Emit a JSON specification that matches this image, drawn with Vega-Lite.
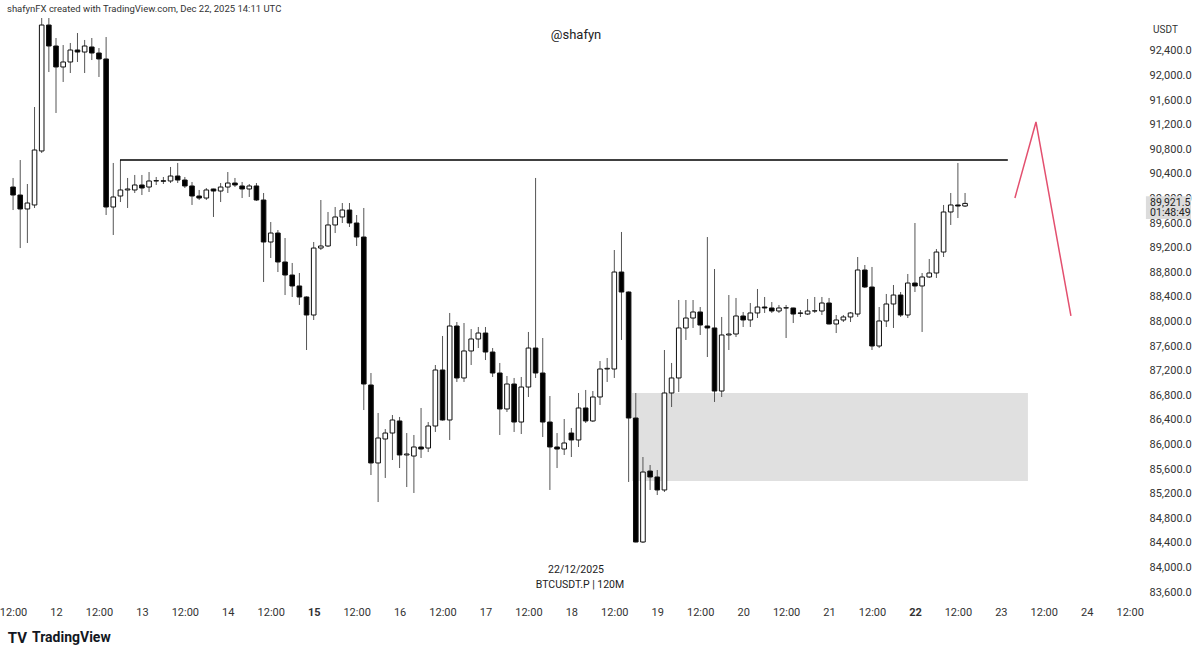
{
  "$schema": "https://vega.github.io/schema/vega-lite/v6.json",
  "autosize": "none",
  "width": 1140,
  "height": 600,
  "padding": {"left": 0, "top": 0, "right": 60, "bottom": 58},
  "background": "#ffffff",
  "config": {"view": {"stroke": null}, "font": "Roboto"},
  "datasets": {
    "candles": [
      {"t":"2025-12-11T12:00:00Z","o":90188,"h":90335,"l":89814,"c":90058},
      {"t":"2025-12-11T14:00:00Z","o":90058,"h":90627,"l":89196,"c":89831},
      {"t":"2025-12-11T16:00:00Z","o":89831,"h":90237,"l":89278,"c":89928},
      {"t":"2025-12-11T18:00:00Z","o":89896,"h":91489,"l":89847,"c":90790},
      {"t":"2025-12-11T20:00:00Z","o":90774,"h":92936,"l":90741,"c":92822},
      {"t":"2025-12-11T22:00:00Z","o":92822,"h":92936,"l":92058,"c":92481},
      {"t":"2025-12-12T00:00:00Z","o":92481,"h":92611,"l":91392,"c":92140},
      {"t":"2025-12-12T02:00:00Z","o":92140,"h":92497,"l":91896,"c":92221},
      {"t":"2025-12-12T04:00:00Z","o":92221,"h":92530,"l":92042,"c":92416},
      {"t":"2025-12-12T06:00:00Z","o":92416,"h":92692,"l":92221,"c":92383},
      {"t":"2025-12-12T08:00:00Z","o":92383,"h":92579,"l":92042,"c":92481},
      {"t":"2025-12-12T10:00:00Z","o":92465,"h":92611,"l":92253,"c":92367},
      {"t":"2025-12-12T12:00:00Z","o":92367,"h":92448,"l":91977,"c":92270},
      {"t":"2025-12-12T14:00:00Z","o":92270,"h":92627,"l":89733,"c":89863},
      {"t":"2025-12-12T16:00:00Z","o":89863,"h":90579,"l":89408,"c":90026},
      {"t":"2025-12-12T18:00:00Z","o":90042,"h":90627,"l":89944,"c":90140},
      {"t":"2025-12-12T20:00:00Z","o":90140,"h":90335,"l":89847,"c":90156},
      {"t":"2025-12-12T22:00:00Z","o":90140,"h":90384,"l":90091,"c":90221},
      {"t":"2025-12-13T00:00:00Z","o":90221,"h":90384,"l":90058,"c":90172},
      {"t":"2025-12-13T02:00:00Z","o":90188,"h":90432,"l":90107,"c":90286},
      {"t":"2025-12-13T04:00:00Z","o":90286,"h":90351,"l":90221,"c":90292},
      {"t":"2025-12-13T06:00:00Z","o":90290,"h":90351,"l":90237,"c":90282},
      {"t":"2025-12-13T08:00:00Z","o":90286,"h":90514,"l":90253,"c":90367},
      {"t":"2025-12-13T10:00:00Z","o":90367,"h":90579,"l":90253,"c":90302},
      {"t":"2025-12-13T12:00:00Z","o":90302,"h":90351,"l":90172,"c":90205},
      {"t":"2025-12-13T14:00:00Z","o":90205,"h":90270,"l":89896,"c":90042},
      {"t":"2025-12-13T16:00:00Z","o":90042,"h":90140,"l":89977,"c":90009},
      {"t":"2025-12-13T18:00:00Z","o":90009,"h":90172,"l":89977,"c":90140},
      {"t":"2025-12-13T20:00:00Z","o":90156,"h":90160,"l":89701,"c":90123},
      {"t":"2025-12-13T22:00:00Z","o":90123,"h":90253,"l":89944,"c":90188},
      {"t":"2025-12-14T00:00:00Z","o":90188,"h":90432,"l":90091,"c":90253},
      {"t":"2025-12-14T02:00:00Z","o":90253,"h":90335,"l":90188,"c":90221},
      {"t":"2025-12-14T04:00:00Z","o":90205,"h":90270,"l":90009,"c":90156},
      {"t":"2025-12-14T06:00:00Z","o":90156,"h":90237,"l":90026,"c":90205},
      {"t":"2025-12-14T08:00:00Z","o":90205,"h":90253,"l":89961,"c":89977},
      {"t":"2025-12-14T10:00:00Z","o":89977,"h":90091,"l":88644,"c":89294},
      {"t":"2025-12-14T12:00:00Z","o":89294,"h":89619,"l":89034,"c":89440},
      {"t":"2025-12-14T14:00:00Z","o":89440,"h":89489,"l":88806,"c":88969},
      {"t":"2025-12-14T16:00:00Z","o":88969,"h":89359,"l":88432,"c":88757},
      {"t":"2025-12-14T18:00:00Z","o":88757,"h":88953,"l":88400,"c":88579},
      {"t":"2025-12-14T20:00:00Z","o":88579,"h":88790,"l":88270,"c":88400},
      {"t":"2025-12-14T22:00:00Z","o":88400,"h":88410,"l":87538,"c":88107},
      {"t":"2025-12-15T00:00:00Z","o":88107,"h":89294,"l":88026,"c":89196},
      {"t":"2025-12-15T02:00:00Z","o":89196,"h":89977,"l":89164,"c":89229},
      {"t":"2025-12-15T04:00:00Z","o":89229,"h":89782,"l":89213,"c":89571},
      {"t":"2025-12-15T06:00:00Z","o":89571,"h":89863,"l":89440,"c":89701},
      {"t":"2025-12-15T08:00:00Z","o":89701,"h":89928,"l":89603,"c":89814},
      {"t":"2025-12-15T10:00:00Z","o":89814,"h":89928,"l":89538,"c":89603},
      {"t":"2025-12-15T12:00:00Z","o":89603,"h":89733,"l":89229,"c":89375},
      {"t":"2025-12-15T14:00:00Z","o":89375,"h":89847,"l":86562,"c":86985},
      {"t":"2025-12-15T16:00:00Z","o":86969,"h":87164,"l":85505,"c":85701},
      {"t":"2025-12-15T18:00:00Z","o":85701,"h":86514,"l":85066,"c":86107},
      {"t":"2025-12-15T20:00:00Z","o":86091,"h":86253,"l":85457,"c":86188},
      {"t":"2025-12-15T22:00:00Z","o":86188,"h":86481,"l":85749,"c":86400},
      {"t":"2025-12-16T00:00:00Z","o":86384,"h":86449,"l":85619,"c":85831},
      {"t":"2025-12-16T02:00:00Z","o":85831,"h":86188,"l":85310,"c":85847},
      {"t":"2025-12-16T04:00:00Z","o":85814,"h":86156,"l":85213,"c":85961},
      {"t":"2025-12-16T06:00:00Z","o":85961,"h":86595,"l":85782,"c":85928},
      {"t":"2025-12-16T08:00:00Z","o":85944,"h":86367,"l":85879,"c":86302},
      {"t":"2025-12-16T10:00:00Z","o":86302,"h":87294,"l":86205,"c":87213},
      {"t":"2025-12-16T12:00:00Z","o":87213,"h":87766,"l":86390,"c":86400},
      {"t":"2025-12-16T14:00:00Z","o":86400,"h":88140,"l":86075,"c":87928},
      {"t":"2025-12-16T16:00:00Z","o":87928,"h":87993,"l":87018,"c":87083},
      {"t":"2025-12-16T18:00:00Z","o":87083,"h":87977,"l":87018,"c":87522},
      {"t":"2025-12-16T20:00:00Z","o":87522,"h":87879,"l":87294,"c":87717},
      {"t":"2025-12-16T22:00:00Z","o":87717,"h":87912,"l":87570,"c":87814},
      {"t":"2025-12-17T00:00:00Z","o":87814,"h":87912,"l":87375,"c":87505},
      {"t":"2025-12-17T02:00:00Z","o":87505,"h":87570,"l":87099,"c":87164},
      {"t":"2025-12-17T04:00:00Z","o":87164,"h":87327,"l":86156,"c":86579},
      {"t":"2025-12-17T06:00:00Z","o":86579,"h":87115,"l":86530,"c":86985},
      {"t":"2025-12-17T08:00:00Z","o":86985,"h":87083,"l":86205,"c":86367},
      {"t":"2025-12-17T10:00:00Z","o":86367,"h":87099,"l":86172,"c":86936},
      {"t":"2025-12-17T12:00:00Z","o":86936,"h":87831,"l":86774,"c":87570},
      {"t":"2025-12-17T14:00:00Z","o":87570,"h":90335,"l":87083,"c":87164},
      {"t":"2025-12-17T16:00:00Z","o":87164,"h":87733,"l":86123,"c":86367},
      {"t":"2025-12-17T18:00:00Z","o":86367,"h":86790,"l":85262,"c":85961},
      {"t":"2025-12-17T20:00:00Z","o":85961,"h":86188,"l":85619,"c":85928},
      {"t":"2025-12-17T22:00:00Z","o":85928,"h":86416,"l":85831,"c":86026},
      {"t":"2025-12-18T00:00:00Z","o":86188,"h":86270,"l":85798,"c":86075},
      {"t":"2025-12-18T02:00:00Z","o":86075,"h":86839,"l":85961,"c":86595},
      {"t":"2025-12-18T04:00:00Z","o":86595,"h":86888,"l":86351,"c":86384},
      {"t":"2025-12-18T06:00:00Z","o":86384,"h":86871,"l":86367,"c":86774},
      {"t":"2025-12-18T08:00:00Z","o":86774,"h":87359,"l":86644,"c":87229},
      {"t":"2025-12-18T10:00:00Z","o":87229,"h":87408,"l":87018,"c":87240},
      {"t":"2025-12-18T12:00:00Z","o":87229,"h":89164,"l":87083,"c":88806},
      {"t":"2025-12-18T14:00:00Z","o":88806,"h":89457,"l":87701,"c":88481},
      {"t":"2025-12-18T16:00:00Z","o":88481,"h":88490,"l":85392,"c":86432},
      {"t":"2025-12-18T18:00:00Z","o":86432,"h":86839,"l":84410,"c":84416},
      {"t":"2025-12-18T20:00:00Z","o":84416,"h":85798,"l":84400,"c":85554},
      {"t":"2025-12-18T22:00:00Z","o":85570,"h":85668,"l":85262,"c":85473},
      {"t":"2025-12-19T00:00:00Z","o":85473,"h":85587,"l":85180,"c":85262},
      {"t":"2025-12-19T02:00:00Z","o":85262,"h":87538,"l":85229,"c":86839},
      {"t":"2025-12-19T04:00:00Z","o":86839,"h":87327,"l":86611,"c":87083},
      {"t":"2025-12-19T06:00:00Z","o":87083,"h":88351,"l":86855,"c":87896},
      {"t":"2025-12-19T08:00:00Z","o":87896,"h":88351,"l":87701,"c":88058},
      {"t":"2025-12-19T10:00:00Z","o":88058,"h":88351,"l":87896,"c":88156},
      {"t":"2025-12-19T12:00:00Z","o":88156,"h":88237,"l":87782,"c":87944},
      {"t":"2025-12-19T14:00:00Z","o":87928,"h":89375,"l":87424,"c":87896},
      {"t":"2025-12-19T16:00:00Z","o":87896,"h":88855,"l":86693,"c":86871},
      {"t":"2025-12-19T18:00:00Z","o":86871,"h":88075,"l":86774,"c":87782},
      {"t":"2025-12-19T20:00:00Z","o":87782,"h":88432,"l":87538,"c":87798},
      {"t":"2025-12-19T22:00:00Z","o":87798,"h":88384,"l":87749,"c":88091},
      {"t":"2025-12-20T00:00:00Z","o":88091,"h":88156,"l":87912,"c":88026},
      {"t":"2025-12-20T02:00:00Z","o":88026,"h":88302,"l":87912,"c":88140},
      {"t":"2025-12-20T04:00:00Z","o":88140,"h":88530,"l":88058,"c":88237},
      {"t":"2025-12-20T06:00:00Z","o":88237,"h":88400,"l":88140,"c":88221},
      {"t":"2025-12-20T08:00:00Z","o":88221,"h":88318,"l":88140,"c":88172},
      {"t":"2025-12-20T10:00:00Z","o":88172,"h":88270,"l":88140,"c":88221},
      {"t":"2025-12-20T12:00:00Z","o":88221,"h":88270,"l":87733,"c":88225},
      {"t":"2025-12-20T14:00:00Z","o":88221,"h":88225,"l":87977,"c":88123},
      {"t":"2025-12-20T16:00:00Z","o":88140,"h":88188,"l":88075,"c":88135},
      {"t":"2025-12-20T18:00:00Z","o":88123,"h":88367,"l":88107,"c":88172},
      {"t":"2025-12-20T20:00:00Z","o":88172,"h":88400,"l":88140,"c":88175},
      {"t":"2025-12-20T22:00:00Z","o":88172,"h":88400,"l":88107,"c":88302},
      {"t":"2025-12-21T00:00:00Z","o":88302,"h":88384,"l":87955,"c":87961},
      {"t":"2025-12-21T02:00:00Z","o":87961,"h":88107,"l":87814,"c":88026},
      {"t":"2025-12-21T04:00:00Z","o":88026,"h":88107,"l":87993,"c":88075},
      {"t":"2025-12-21T06:00:00Z","o":88075,"h":88156,"l":87993,"c":88140},
      {"t":"2025-12-21T08:00:00Z","o":88123,"h":89050,"l":88075,"c":88839},
      {"t":"2025-12-21T10:00:00Z","o":88839,"h":88920,"l":88546,"c":88562},
      {"t":"2025-12-21T12:00:00Z","o":88562,"h":88888,"l":87538,"c":87603},
      {"t":"2025-12-21T14:00:00Z","o":87603,"h":88237,"l":87570,"c":88010},
      {"t":"2025-12-21T16:00:00Z","o":88010,"h":88449,"l":87912,"c":88286},
      {"t":"2025-12-21T18:00:00Z","o":88286,"h":88595,"l":87896,"c":88432},
      {"t":"2025-12-21T20:00:00Z","o":88432,"h":88481,"l":88075,"c":88107},
      {"t":"2025-12-21T22:00:00Z","o":88107,"h":88774,"l":88058,"c":88627},
      {"t":"2025-12-22T00:00:00Z","o":88627,"h":89603,"l":88481,"c":88579},
      {"t":"2025-12-22T02:00:00Z","o":88579,"h":88790,"l":87831,"c":88725},
      {"t":"2025-12-22T04:00:00Z","o":88725,"h":89018,"l":88709,"c":88790},
      {"t":"2025-12-22T06:00:00Z","o":88790,"h":89180,"l":88709,"c":89131},
      {"t":"2025-12-22T08:00:00Z","o":89131,"h":89896,"l":89050,"c":89782},
      {"t":"2025-12-22T10:00:00Z","o":89782,"h":90091,"l":89571,"c":89896},
      {"t":"2025-12-22T12:00:00Z","o":89896,"h":90579,"l":89684,"c":89879},
      {"t":"2025-12-22T14:00:00Z","o":89879,"h":90091,"l":89863,"c":89921.5}
    ],
    "zone": [{"x1":"2025-12-18T16:55:00Z","x2":"2025-12-23T07:34:00Z","p1":86839,"p2":85408}],
    "hline": [{"x1":"2025-12-12T17:53:00Z","x2":"2025-12-23T01:57:00Z","p":90627}],
    "redpath": [
      {"t":"2025-12-23T03:56:00Z","p":90010,"k":0},
      {"t":"2025-12-23T09:49:00Z","p":91246,"k":1},
      {"t":"2025-12-23T19:35:00Z","p":88091,"k":2}
    ],
    "watermark": [{"t":"2025-12-11T10:18:00Z","p":93083,"label":"shafynFX created with TradingView.com, Dec 22, 2025 14:11 UTC"}],
    "handle": [{"t":"2025-12-18T01:18:00Z","p":92660,"label":"@shafyn"}],
    "bottomText": [
      {"t":"2025-12-18T01:18:00Z","p":83961,"label":"22/12/2025"},
      {"t":"2025-12-18T02:25:00Z","p":83717,"label":"BTCUSDT.P | 120M"}
    ],
    "logo": [{"t":"2025-12-11T17:17:00Z","p":82855,"label":"TradingView"}],
    "logoIcon": [{"t":"2025-12-11T13:14:00Z","p":82855,"label":"TV"}],
    "priceBox": [{"x1":"2025-12-24T16:32:00Z","x2":"2025-12-25T05:08:00Z","p1":90040,"p2":89668}],
    "priceText": [
      {"t":"2025-12-24T17:42:00Z","p":89928,"label":"89,921.5"},
      {"t":"2025-12-24T17:42:00Z","p":89766,"label":"01:48:49"}
    ]
  },
  "encoding": {
    "x": {
      "type": "temporal",
      "scale": {"type": "utc", "domain": [1765441260000, 1766587980000], "nice": false, "padding": 0},
      "axis": {
        "title": null,
        "values": [1765454400000,1765497600000,1765540800000,1765584000000,1765627200000,1765670400000,1765713600000,1765756800000,1765800000000,1765843200000,1765886400000,1765929600000,1765972800000,1766016000000,1766059200000,1766102400000,1766145600000,1766188800000,1766232000000,1766275200000,1766318400000,1766361600000,1766404800000,1766448000000,1766491200000,1766534400000,1766577600000],
        "labelExpr": "utchours(datum.value) == 0 ? utcFormat(datum.value, '%-d') : '12:00'",
        "labelFontWeight": {"condition": {"test": "utcday(datum.value) == 1 && utchours(datum.value) == 0", "value": "bold"}, "value": "normal"},
        "labelFontSize": 11,
        "labelColor": "#333333",
        "labelPadding": 6,
        "labelOverlap": false,
        "labelFlush": false,
        "ticks": false,
        "domain": false,
        "grid": false
      }
    },
    "y": {
      "type": "quantitative",
      "scale": {"domain": [83473, 93229], "zero": false, "nice": false, "padding": 0},
      "axis": {
        "orient": "right",
        "values": [83600,84000,84400,84800,85200,85600,86000,86400,86800,87200,87600,88000,88400,88800,89200,89600,90000,90400,90800,91200,91600,92000,92400],
        "format": ",.1f",
        "labelFontSize": 11,
        "labelColor": "#333333",
        "labelPadding": 9,
        "labelOverlap": false,
        "ticks": false,
        "domain": false,
        "grid": false,
        "title": "USDT",
        "titleAngle": 0,
        "titleAlign": "center",
        "titleBaseline": "middle",
        "titleX": 25,
        "titleY": 29,
        "titleFontSize": 10,
        "titleFontWeight": "normal",
        "titleColor": "#333333"
      }
    }
  },
  "layer": [
    {
      "data": {"name": "zone"},
      "mark": {"type": "rect", "fill": "#e0e0e0"},
      "encoding": {
        "x": {"field": "x1", "type": "temporal"},
        "x2": {"field": "x2"},
        "y": {"field": "p1", "type": "quantitative"},
        "y2": {"field": "p2"}
      }
    },
    {
      "data": {"name": "candles"},
      "mark": {"type": "rule", "stroke": "#555555", "strokeWidth": 1},
      "encoding": {
        "x": {"field": "t", "type": "temporal"},
        "y": {"field": "l", "type": "quantitative"},
        "y2": {"field": "h"}
      }
    },
    {
      "data": {"name": "candles"},
      "mark": {"type": "bar", "size": 4.6, "stroke": "#111111", "strokeWidth": 1},
      "encoding": {
        "x": {"field": "t", "type": "temporal"},
        "y": {"field": "o", "type": "quantitative"},
        "y2": {"field": "c"},
        "fill": {"condition": {"test": "datum.c < datum.o", "value": "#000000"}, "value": "#ffffff"}
      }
    },
    {
      "data": {"name": "hline"},
      "mark": {"type": "rule", "stroke": "#000000", "strokeWidth": 1.5},
      "encoding": {
        "x": {"field": "x1", "type": "temporal"},
        "x2": {"field": "x2"},
        "y": {"field": "p", "type": "quantitative"}
      }
    },
    {
      "data": {"name": "redpath"},
      "mark": {"type": "line", "stroke": "#e3506f", "strokeWidth": 1.5},
      "encoding": {
        "x": {"field": "t", "type": "temporal"},
        "y": {"field": "p", "type": "quantitative"},
        "order": {"field": "k"}
      }
    },
    {
      "data": {"name": "watermark"},
      "mark": {"type": "text", "align": "left", "baseline": "middle", "fontSize": 9.5, "color": "#333333"},
      "encoding": {
        "x": {"field": "t", "type": "temporal"},
        "y": {"field": "p", "type": "quantitative"},
        "text": {"field": "label"}
      }
    },
    {
      "data": {"name": "handle"},
      "mark": {"type": "text", "align": "center", "baseline": "middle", "fontSize": 13, "color": "#222222"},
      "encoding": {
        "x": {"field": "t", "type": "temporal"},
        "y": {"field": "p", "type": "quantitative"},
        "text": {"field": "label"}
      }
    },
    {
      "data": {"name": "bottomText"},
      "mark": {"type": "text", "align": "center", "baseline": "middle", "fontSize": 10.5, "color": "#222222"},
      "encoding": {
        "x": {"field": "t", "type": "temporal"},
        "y": {"field": "p", "type": "quantitative"},
        "text": {"field": "label"}
      }
    },
    {
      "data": {"name": "logo"},
      "mark": {"type": "text", "align": "left", "baseline": "middle", "fontSize": 14, "fontWeight": "bold", "color": "#131722"},
      "encoding": {
        "x": {"field": "t", "type": "temporal"},
        "y": {"field": "p", "type": "quantitative"},
        "text": {"field": "label"}
      }
    },
    {
      "data": {"name": "logoIcon"},
      "mark": {"type": "text", "align": "center", "baseline": "middle", "fontSize": 15, "fontWeight": "bold", "color": "#131722"},
      "encoding": {
        "x": {"field": "t", "type": "temporal"},
        "y": {"field": "p", "type": "quantitative"},
        "text": {"field": "label"}
      }
    },
    {
      "data": {"name": "priceBox"},
      "mark": {"type": "rect", "fill": "#dcdcdc"},
      "encoding": {
        "x": {"field": "x1", "type": "temporal"},
        "x2": {"field": "x2"},
        "y": {"field": "p1", "type": "quantitative"},
        "y2": {"field": "p2"}
      }
    },
    {
      "data": {"name": "priceText"},
      "mark": {"type": "text", "align": "left", "baseline": "middle", "fontSize": 10.5, "color": "#222222"},
      "encoding": {
        "x": {"field": "t", "type": "temporal"},
        "y": {"field": "p", "type": "quantitative"},
        "text": {"field": "label"}
      }
    }
  ]
}
